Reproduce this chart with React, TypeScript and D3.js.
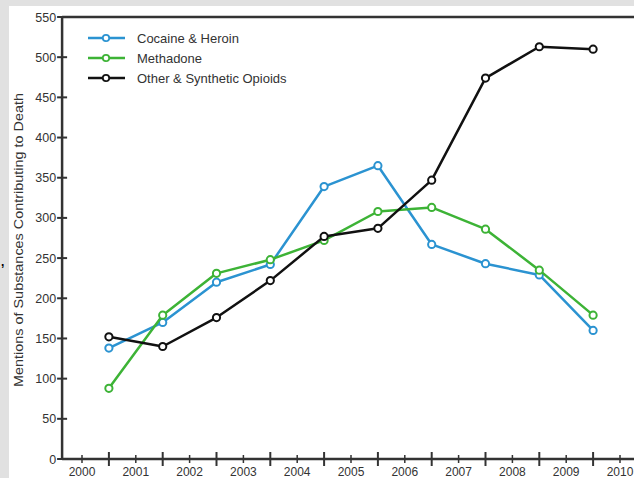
import React from 'react';
import * as d3 from 'd3';

// data (points sit midway between year labels)
const years = [2000, 2001, 2002, 2003, 2004, 2005, 2006, 2007, 2008, 2009];
const cocaineHeroin = [138, 170, 220, 242, 339, 365, 267, 243, 229, 160];
const methadone = [88, 179, 231, 248, 272, 308, 313, 286, 235, 179];
const otherOpioids = [152, 140, 176, 222, 277, 287, 347, 474, 513, 510];
const yTicks = [0, 50, 100, 150, 200, 250, 300, 350, 400, 450, 500, 550];
const xLabels = [2000, 2001, 2002, 2003, 2004, 2005, 2006, 2007, 2008, 2009, 2010];

const series = [
  { name: 'Cocaine & Heroin', values: cocaineHeroin, color: '#2b93d1' },
  { name: 'Methadone', values: methadone, color: '#3db336' },
  { name: 'Other & Synthetic Opioids', values: otherOpioids, color: '#111' },
];

const W = 634;
const H = 478;
const axisColor = '#333';
const font = '"Liberation Sans", Arial, sans-serif';

export default function App() {
  const x = d3.scaleLinear().domain([2000, 2010]).range([82, 620]);
  const y = d3.scaleLinear().domain([0, 550]).range([459, 17]);
  const x0 = x(1999.63);

  const line = d3.line<number>()
    .x((_, i) => x(years[i] + 0.5))
    .y((d) => y(d));

  return (
    <svg width={W} height={H} style={{ position: 'absolute', left: 0, top: 0 }} fontFamily={font}>
      <rect width={W} height={H} fill="#e1e1e1" />
      <rect x={9} y={6} width={W - 9} height={H - 6} fill="#fff" />
      <text x={1} y={266} fontSize={12} fontWeight="bold" fill="#000">,</text>

      {/* frame: left axis, top line, bottom axis */}
      <line x1={x0} x2={x0} y1={y(550) - 1} y2={y(0) + 1} stroke={axisColor} strokeWidth={2.5} />
      <line x1={x0} x2={W} y1={y(550)} y2={y(550)} stroke={axisColor} strokeWidth={2.5} />
      <line x1={x0} x2={W} y1={y(0)} y2={y(0)} stroke={axisColor} strokeWidth={2.5} />

      {yTicks.map((t) => (
        <g key={t}>
          <line x1={x0 - 5} x2={x0 + 5} y1={y(t)} y2={y(t)} stroke={axisColor} strokeWidth={2} />
          <text x={x0 - 6} y={y(t) + 4.5} fontSize={12.5} textAnchor="end" fill="#333">{t}</text>
        </g>
      ))}

      {xLabels.map((t) => (
        <g key={t}>
          <line x1={x(t)} x2={x(t)} y1={y(0) - 4} y2={y(0) + 4} stroke={axisColor} strokeWidth={1.5} />
          <text x={x(t)} y={y(0) + 16.5} fontSize={12} textAnchor="middle" fill="#333">{t}</text>
        </g>
      ))}
      {xLabels.slice(0, -1).map((t) => (
        <line key={'m' + t} x1={x(t + 0.5)} x2={x(t + 0.5)} y1={y(0) - 7} y2={y(0) + 7}
          stroke={axisColor} strokeWidth={2} />
      ))}

      <text transform="translate(23, 240) rotate(-90)" fontSize={12.5} textAnchor="middle" fill="#333"
        textLength={294} lengthAdjust="spacingAndGlyphs">
        Mentions of Substances Contributing to Death
      </text>

      {series.map((s) => (
        <g key={s.name}>
          <path d={line(s.values) || ''} fill="none" stroke={s.color} strokeWidth={2.5} strokeLinejoin="round" />
          {s.values.map((v, i) => (
            <circle key={i} cx={x(years[i] + 0.5)} cy={y(v)} r={3.6} fill="#fff" stroke={s.color} strokeWidth={2} />
          ))}
        </g>
      ))}

      {series.map((s, i) => (
        <g key={'lg' + s.name} transform={`translate(88, ${38 + i * 20})`}>
          <line x1={0} x2={37} y1={0} y2={0} stroke={s.color} strokeWidth={2.5} />
          <circle cx={18} cy={0} r={3.2} fill="#fff" stroke={s.color} strokeWidth={1.8} />
          <text x={49} y={4.5} fontSize={13} fill="#333">{s.name}</text>
        </g>
      ))}
    </svg>
  );
}
